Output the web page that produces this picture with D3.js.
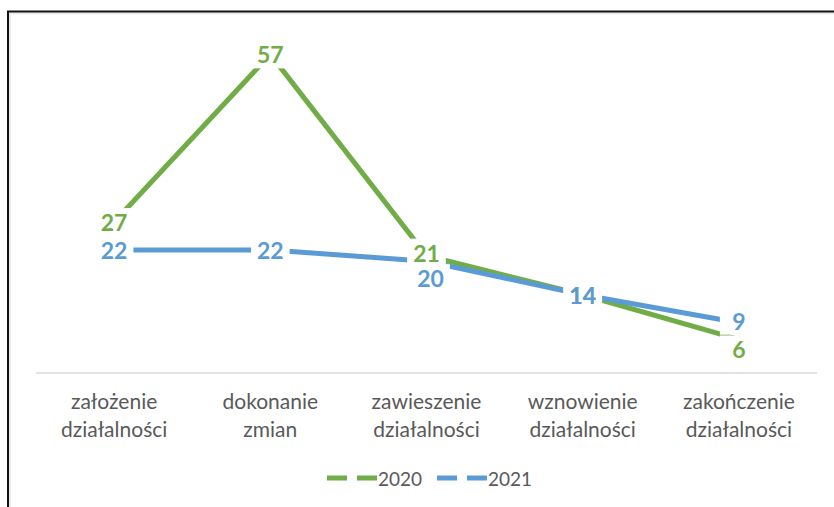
<!DOCTYPE html>
<html>
<head>
<meta charset="utf-8">
<script src="https://cdn.jsdelivr.net/npm/d3@7"></script>
<style>
  html, body { margin: 0; padding: 0; background: #fff; }
  svg { display: block; }
  text { font-family: Lato, "Open Sans", sans-serif; }
</style>
</head>
<body>
<svg id="chart" width="834" height="507"></svg>
<script>
// Categories (two-line axis labels split on "\n")
const categories = [
  "założenie\ndziałalności",
  "dokonanie\nzmian",
  "zawieszenie\ndziałalności",
  "wznowienie\ndziałalności",
  "zakończenie\ndziałalności"
];
const seriesNames = ["2020", "2021"];
const values2020 = [27, 57, 21, 14, 6];
const values2021 = [22, 22, 20, 14, 9];

// Presentation settings
const colors = { "2020": "#70AD47", "2021": "#5B9BD5" };
// Small label nudges (dx, dy) to keep overlapping labels apart
const labelNudge = {
  "2020": { 2: [0, -3], 4: [0, 10] },
  "2021": { 2: [4, 17], 4: [0, -2] }
};

const series = [
  { name: seriesNames[0], values: values2020 },
  { name: seriesNames[1], values: values2021 }
];

const svg = d3.select("#chart");
const W = 834, H = 507;
const plot = { left: 36, right: 817, top: 37.6, bottom: 373 };

// Outer chart frame (continues past the right and bottom edges)
svg.append("rect")
  .attr("x", 10).attr("y", 13.5)
  .attr("width", W + 20).attr("height", H + 20)
  .attr("fill", "none").attr("stroke", "#e6e6e6").attr("stroke-width", 1.5);
svg.append("rect")
  .attr("x", 8).attr("y", 11.5)
  .attr("width", W + 20).attr("height", H + 20)
  .attr("fill", "none").attr("stroke", "#111").attr("stroke-width", 2);

const x = d3.scaleBand()
  .domain(categories)
  .range([plot.left, plot.right]);
const cx = c => x(c) + x.bandwidth() / 2;

const y = d3.scaleLinear()
  .domain([0, 60])
  .range([plot.bottom, plot.top]);

// Category axis
const axisG = svg.append("g")
  .attr("transform", `translate(0,${plot.bottom})`)
  .call(d3.axisBottom(x).tickSize(0).tickPadding(0).tickFormat(""));
axisG.select(".domain")
  .attr("stroke", "#d9d9d9").attr("stroke-width", 1.5)
  .attr("d", `M${plot.left},0H${plot.right}`);
axisG.selectAll(".tick text").remove();
axisG.selectAll(".tick").each(function(d) {
  const t = d3.select(this).append("text")
    .attr("fill", "#595959")
    .attr("font-size", 21)
    .attr("text-anchor", "middle");
  d.split("\n").forEach((line, i) => {
    t.append("tspan").attr("x", 0).attr("y", 36 + i * 28).text(line);
  });
});

// Lines
const line = d3.line()
  .x((d, i) => cx(categories[i]))
  .y(d => y(d));

svg.selectAll("path.series")
  .data(series)
  .join("path")
  .attr("class", "series")
  .attr("fill", "none")
  .attr("stroke", d => colors[d.name])
  .attr("stroke-width", 5)
  .attr("stroke-linejoin", "round")
  .attr("d", d => line(d.values));

// Data labels: white boxes for every label first, then the numbers on top
const labels = [];
series.forEach(s => {
  s.values.forEach((v, i) => {
    const n = (labelNudge[s.name] || {})[i] || [0, 0];
    labels.push({
      name: s.name, value: v,
      lx: cx(categories[i]) + n[0],
      ly: y(v) + n[1]
    });
  });
});

const boxLayer = svg.append("g").attr("class", "label-boxes");
const textLayer = svg.append("g").attr("class", "label-texts");

labels.forEach(l => {
  const t = textLayer.append("text")
    .attr("x", l.lx).attr("y", l.ly)
    .attr("text-anchor", "middle")
    .attr("dominant-baseline", "central")
    .attr("font-size", 23)
    .attr("font-weight", "bold")
    .attr("fill", colors[l.name])
    .text(l.value);
  const w = Math.max(t.node().getComputedTextLength() + 12, 38);
  boxLayer.append("rect")
    .attr("x", l.lx - w / 2).attr("y", l.ly - 14)
    .attr("width", w).attr("height", 28)
    .attr("fill", "#fff");
});

// Legend
const legendX = [327, 437];
const legend = svg.append("g");
series.forEach((s, i) => {
  const lg = legend.append("g").attr("transform", `translate(${legendX[i]},478)`);
  lg.append("line")
    .attr("x1", 0).attr("x2", 50)
    .attr("stroke", colors[s.name])
    .attr("stroke-width", 5)
    .attr("stroke-dasharray", "20,10");
  lg.append("text")
    .attr("x", 51)
    .attr("dominant-baseline", "central")
    .attr("font-size", 19)
    .attr("fill", "#595959")
    .text(s.name);
});
</script>
</body>
</html>
